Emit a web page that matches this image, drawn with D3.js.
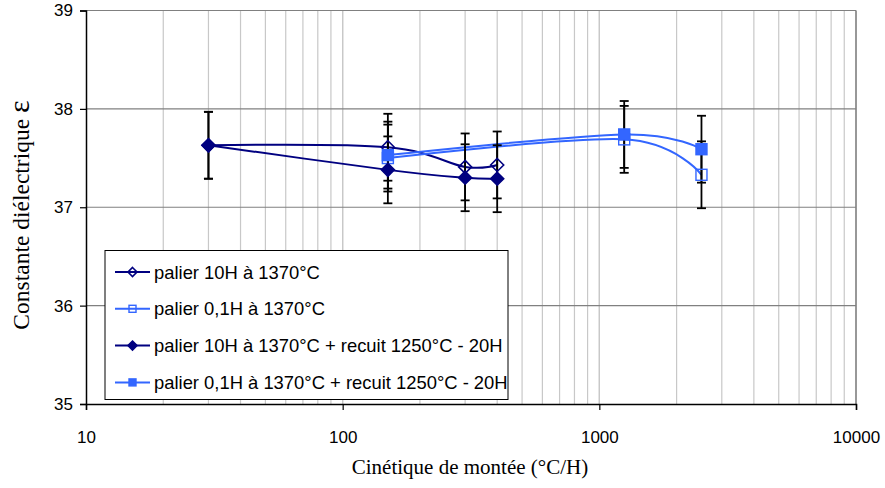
<!DOCTYPE html>
<html><head><meta charset="utf-8">
<script src="https://cdn.jsdelivr.net/npm/d3@7"></script>
<style>body{margin:0;background:#fff}svg{display:block}</style>
</head><body>
<svg id="c" width="885" height="488"></svg>
<script>
// ---- data ----
const seriesNames = [
  "palier 10H à 1370°C",
  "palier 0,1H à 1370°C",
  "palier 10H à 1370°C + recuit 1250°C - 20H",
  "palier 0,1H à 1370°C + recuit 1250°C - 20H"
];
const x10H = [30, 150, 300, 400];
const y10H = [37.63, 37.61, 37.41, 37.43];
const e10H = [0.34, 0.34, 0.34, 0.34];
const x01H = [150, 1250, 2500];
const y01H = [37.50, 37.69, 37.33];
const e01H = [0.34, 0.34, 0.34];
const x10HR = [30, 150, 300, 400];
const y10HR = [37.63, 37.38, 37.30, 37.29];
const e10HR = [0.34, 0.34, 0.34, 0.34];
const x01HR = [150, 1250, 2500];
const y01HR = [37.53, 37.74, 37.59];
const e01HR = [0.34, 0.34, 0.34];
const xTicks = [10, 100, 1000, 10000];
const yTicks = [35, 36, 37, 38, 39];

const navy = "#000080", blue = "#3366FF";
const series = [
  {name: seriesNames[0], xs: x10H, ys: y10H, es: e10H, color: navy, shape: "diamond", fill: false},
  {name: seriesNames[1], xs: x01H, ys: y01H, es: e01H, color: blue, shape: "square", fill: false},
  {name: seriesNames[2], xs: x10HR, ys: y10HR, es: e10HR, color: navy, shape: "diamond", fill: true},
  {name: seriesNames[3], xs: x01HR, ys: y01HR, es: e01HR, color: blue, shape: "square", fill: true}
];

const L = 86, R = 856, T = 10.5, B = 404;
const svg = d3.select("#c");
const x = d3.scaleLog().domain([10, 10000]).range([L, R]);
const y = d3.scaleLinear().domain([35, 39]).range([B, T]);

// vertical grid (minor + major)
const vg = [];
for (let d = 10; d < 10000; d *= 10) for (let k = 1; k <= 10; k++) vg.push(d * k);
svg.append("g").selectAll("line").data(vg.filter(v => v > 10 && v <= 10000)).join("line")
  .attr("x1", d => x(d)).attr("x2", d => x(d)).attr("y1", T).attr("y2", B)
  .attr("stroke", "#c8c8c8").attr("stroke-width", 1.2);
// horizontal grid
svg.append("g").selectAll("line").data(yTicks.filter(v => v > 35)).join("line")
  .attr("x1", L).attr("x2", R).attr("y1", d => y(d)).attr("y2", d => y(d))
  .attr("stroke", "#808080").attr("stroke-width", 1.2);
// right border
svg.append("line").attr("x1", R).attr("x2", R).attr("y1", T).attr("y2", B)
  .attr("stroke", "#808080").attr("stroke-width", 1.5);

// axes
const fontSans = "'Liberation Sans', Arial, sans-serif";
const fontSerif = "'Liberation Serif', 'Times New Roman', serif";
const yAxis = d3.axisLeft(y).tickValues(yTicks).tickSize(6).tickPadding(7).tickFormat(d3.format("d"));
const gy = svg.append("g").attr("transform", `translate(${L},0)`).call(yAxis);
const xAxis = d3.axisBottom(x).tickValues(xTicks).tickSize(6).tickPadding(21).tickFormat(d3.format("d"));
const gx = svg.append("g").attr("transform", `translate(0,${B})`).call(xAxis);
[gx, gy].forEach(g => {
  g.select(".domain").attr("stroke", "#000").attr("stroke-width", 1.5);
  g.selectAll(".tick line").attr("stroke", "#000").attr("stroke-width", 1.2);
  g.selectAll(".tick text").attr("fill", "#000").style("font-family", fontSans).style("font-size", "17px");
});

// titles
svg.append("text").attr("x", 470).attr("y", 474).attr("text-anchor", "middle")
  .style("font-family", fontSerif).style("font-size", "21px").text("Cinétique de montée (°C/H)");
const yt = svg.append("text").attr("transform", "translate(29,215) rotate(-90)").attr("text-anchor", "middle")
  .style("font-family", fontSerif).style("font-size", "23.5px");
yt.append("tspan").text("Constante diélectrique ");
yt.append("tspan").style("font-size", "30px").text("ε");

// curves
const line = d3.line().curve(d3.curveCardinal.tension(0)).x(d => x(d[0])).y(d => y(d[1]));
const plot = svg.append("g");
series.forEach(s => {
  const pts = s.xs.map((v, i) => [v, s.ys[i]]);
  plot.append("path").attr("d", line(pts)).attr("fill", "none")
    .attr("stroke", s.color).attr("stroke-width", 2);
});
// error bars
series.forEach(s => {
  s.xs.forEach((v, i) => {
    const cx = x(v), y1 = y(s.ys[i] + s.es[i]), y2 = y(s.ys[i] - s.es[i]);
    const g = plot.append("g").attr("stroke", "#000").attr("stroke-width", 1.8);
    g.append("line").attr("x1", cx).attr("x2", cx).attr("y1", y1).attr("y2", y2);
    g.append("line").attr("x1", cx - 4.5).attr("x2", cx + 4.5).attr("y1", y1).attr("y2", y1);
    g.append("line").attr("x1", cx - 4.5).attr("x2", cx + 4.5).attr("y1", y2).attr("y2", y2);
  });
});
// markers
function marker(g, s, cx, cy, size) {
  if (s.shape === "diamond") {
    const h = size / 2;
    g.append("path").attr("d", `M${cx},${cy - h}L${cx + h},${cy}L${cx},${cy + h}L${cx - h},${cy}Z`)
      .attr("fill", s.fill ? s.color : "none").attr("stroke", s.color).attr("stroke-width", 1.6);
  } else {
    const h = size / 2 - 1;
    g.append("rect").attr("x", cx - h).attr("y", cy - h).attr("width", 2 * h).attr("height", 2 * h)
      .attr("fill", s.fill ? s.color : "none").attr("stroke", s.color).attr("stroke-width", 1.4);
  }
}
series.forEach(s => {
  s.xs.forEach((v, i) => marker(plot, s, x(v), y(s.ys[i]), 13));
});

// legend
const lg = svg.append("g");
lg.append("rect").attr("x", 105).attr("y", 250.5).attr("width", 403).attr("height", 149)
  .attr("fill", "#fff").attr("stroke", "#000").attr("stroke-width", 1);
series.forEach((s, i) => {
  const cy = 272 + i * 36.8;
  lg.append("line").attr("x1", 115).attr("x2", 150).attr("y1", cy).attr("y2", cy)
    .attr("stroke", s.color).attr("stroke-width", 2);
  marker(lg, s, 132.5, cy, 9);
  lg.append("text").attr("x", 154).attr("y", cy + 6.5)
    .style("font-family", fontSans).style("font-size", "18.4px").text(s.name);
});
</script>
</body></html>
